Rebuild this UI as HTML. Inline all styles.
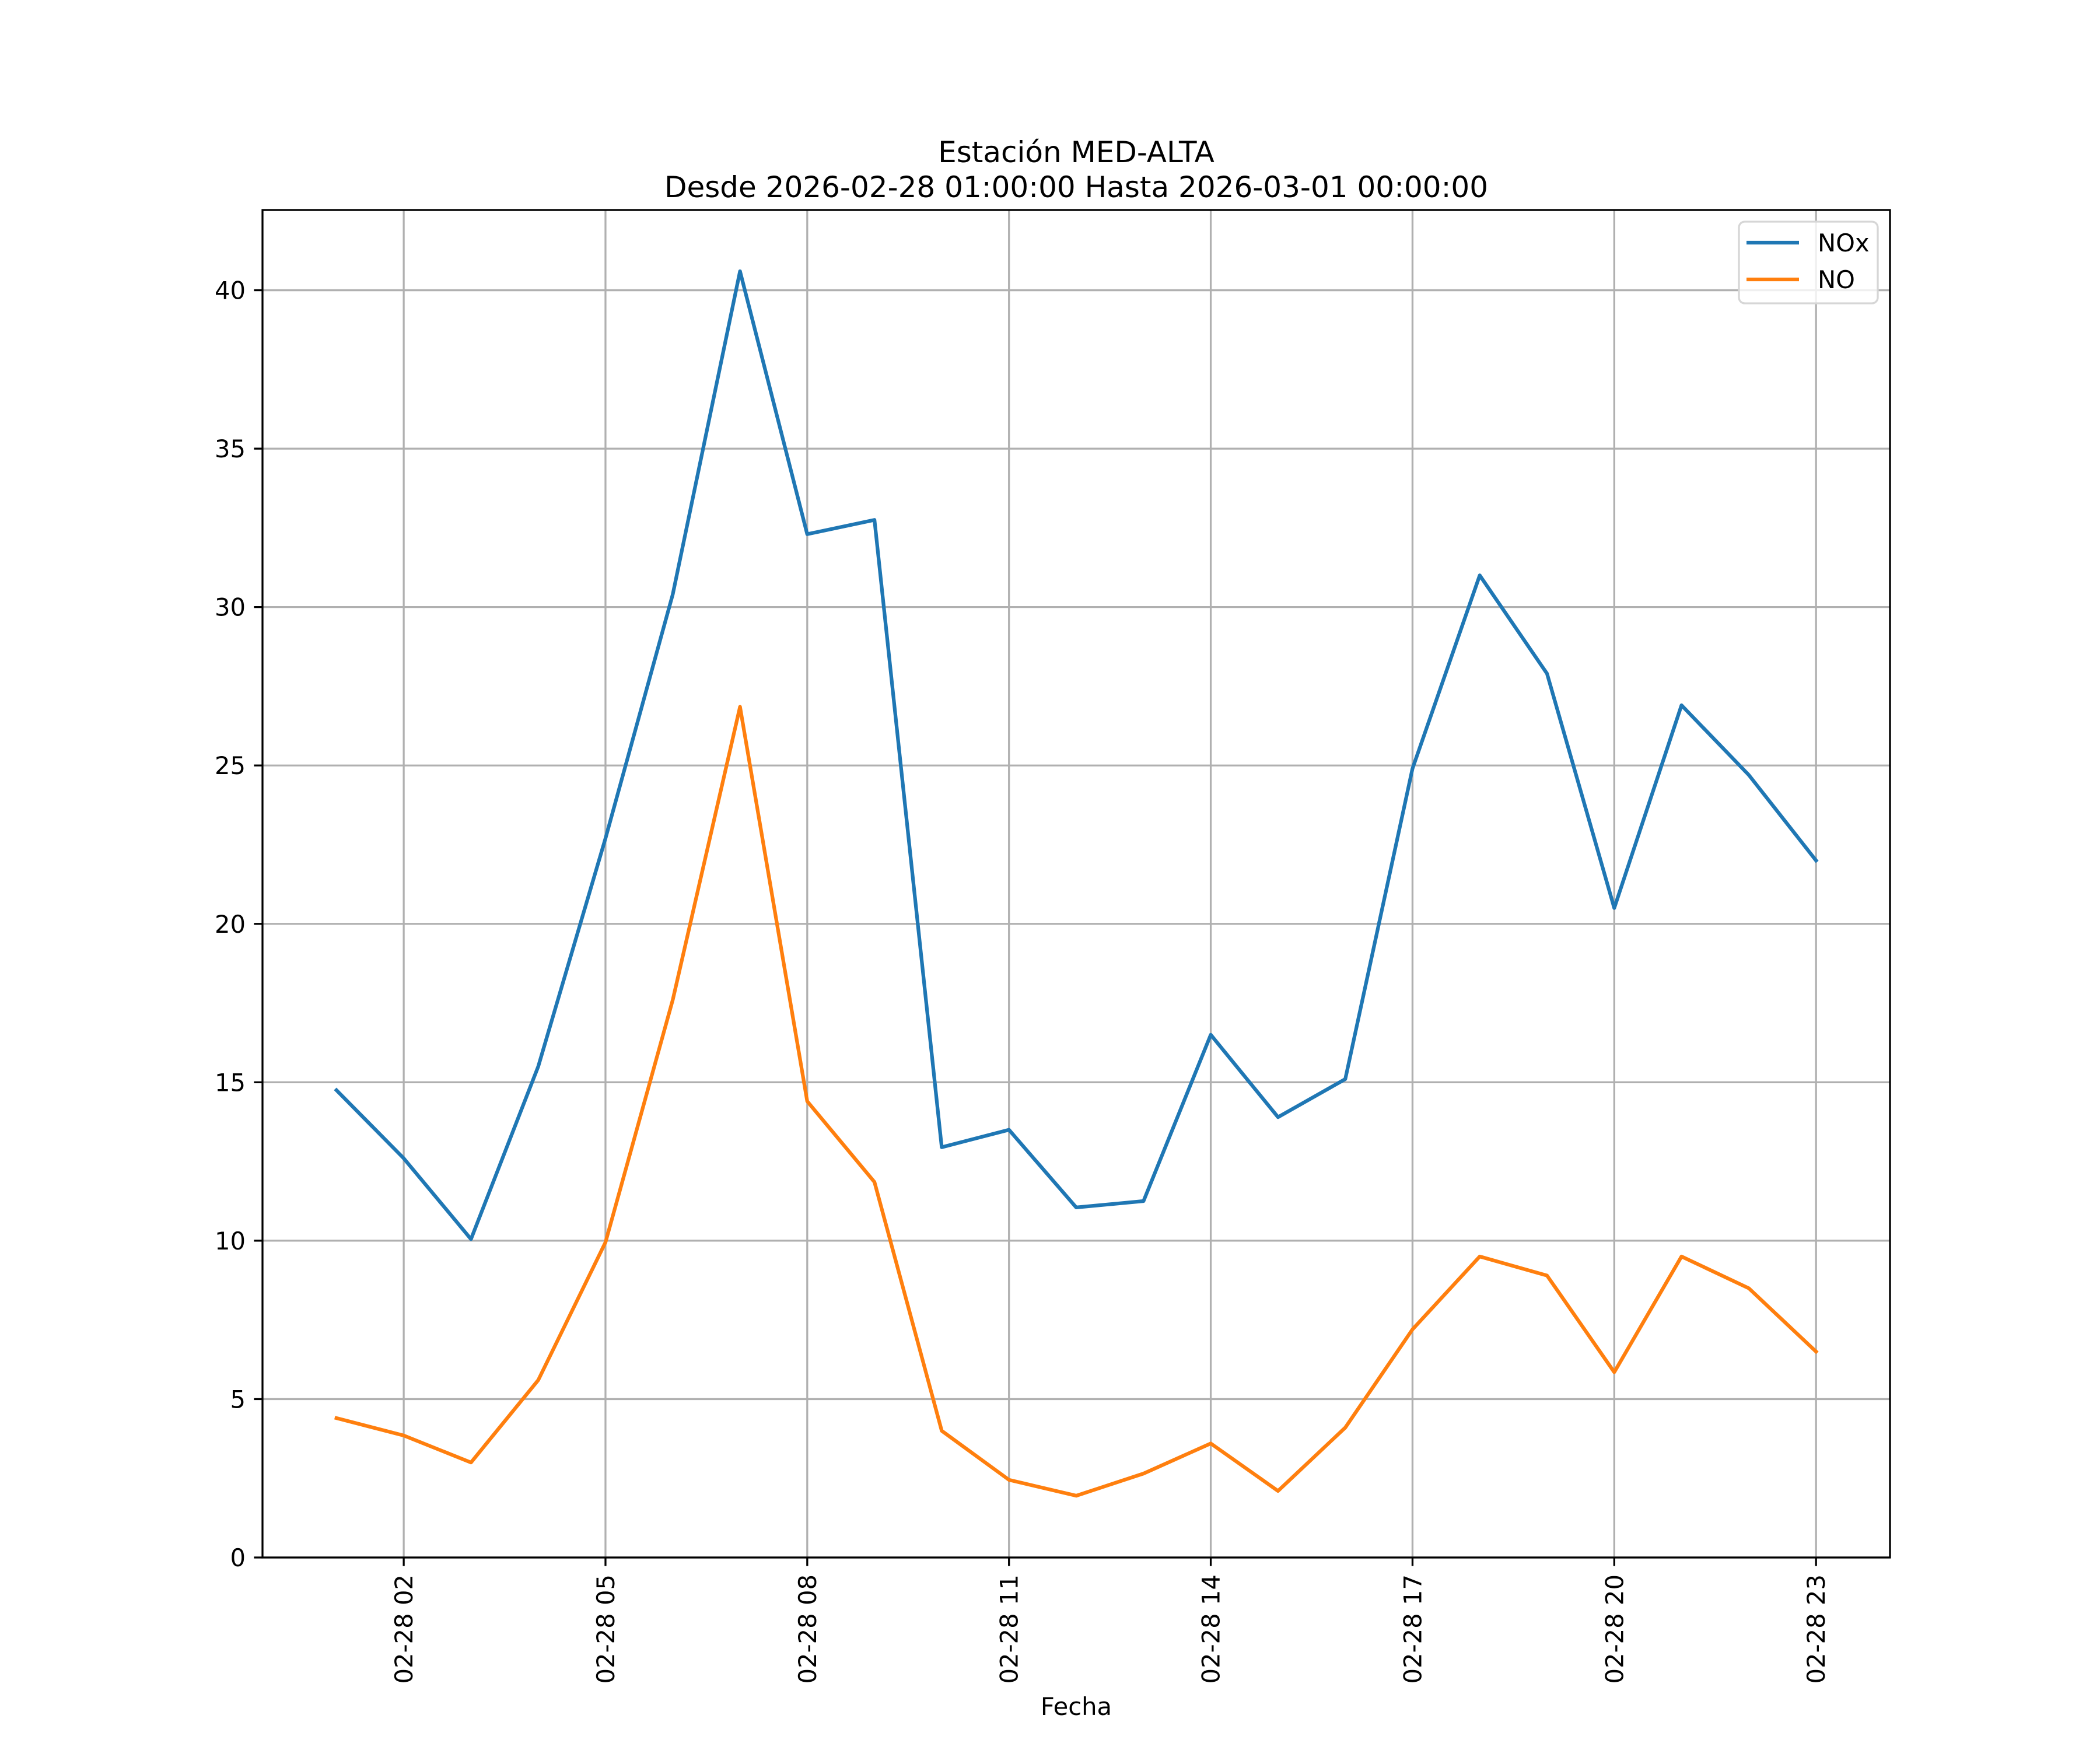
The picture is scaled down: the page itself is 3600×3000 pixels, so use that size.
<!DOCTYPE html>
<html><head><meta charset="utf-8"><style>
html,body{margin:0;padding:0;background:#fff}
svg{display:block;font-family:"DejaVu Sans","Liberation Sans",sans-serif}
</style></head><body>
<svg id="chart" width="3600" height="3000" viewBox="0 0 3600 3000" xmlns="http://www.w3.org/2000/svg">
<rect width="3600" height="3000" fill="#fff"/>
<g id="grid"></g>
<g id="series"></g>
<g id="axes"></g>
<text x="1845" y="278" font-size="50" text-anchor="middle">Estación MED-ALTA</text>
<text x="1845" y="338" font-size="50" text-anchor="middle">Desde 2026-02-28 01:00:00 Hasta 2026-03-01 00:00:00</text>
<text x="1845" y="2940" font-size="41.7" text-anchor="middle">Fecha</text>
<g>
<rect x="2981" y="380" width="238" height="140" rx="10" fill="#fff" fill-opacity="0.8" stroke="#d6d6d6" stroke-width="3.3"/>
<line x1="2994" y1="416" x2="3084" y2="416" stroke="#1f77b4" stroke-width="6.25"/>
<text x="3116" y="431" font-size="41.7">NOx</text>
<line x1="2994" y1="479" x2="3084" y2="479" stroke="#ff7f0e" stroke-width="6.25"/>
<text x="3116" y="494" font-size="41.7">NO</text>
</g>
</svg>
<script>
const hours = [1,2,3,4,5,6,7,8,9,10,11,12,13,14,15,16,17,18,19,20,21,22,23];
const noxValues = [14.75,12.6,10.05,15.5,22.7,30.4,40.6,32.3,32.75,12.95,13.5,11.05,11.25,16.5,13.9,15.1,24.9,31.0,27.9,20.5,26.9,24.7,22.0];
const noValues = [4.4,3.85,3.0,5.6,9.95,17.6,26.85,14.4,11.85,4.0,2.45,1.95,2.65,3.6,2.1,4.1,7.2,9.5,8.9,5.85,9.5,8.5,6.5];
const xTickHours = [2,5,8,11,14,17,20,23];
const xTickLabels = ["02-28 02","02-28 05","02-28 08","02-28 11","02-28 14","02-28 17","02-28 20","02-28 23"];
const yTicks = [0,5,10,15,20,25,30,35,40];

const L=450,R=3240,T=360,B=2670;
const allX=hours, xmin=Math.min(...allX), xmax=Math.max(...allX);
const xpad=(xmax-xmin)*0.05, x0=xmin-xpad, x1=xmax+xpad;
const allY=noxValues.concat(noValues);
const ymaxD=Math.max(...allY), yminD=Math.min(...allY);
const y0=0, y1=ymaxD+(ymaxD-yminD)*0.05;
const sx=v=>L+(v-x0)/(x1-x0)*(R-L);
const sy=v=>B-(v-y0)/(y1-y0)*(B-T);
const NS="http://www.w3.org/2000/svg";
function mk(tag,attrs,parent){const e=document.createElementNS(NS,tag);for(const k in attrs)e.setAttribute(k,attrs[k]);parent.appendChild(e);return e;}
const grid=document.getElementById('grid'),axes=document.getElementById('axes'),series=document.getElementById('series');
xTickHours.forEach((h,i)=>{
  const x=sx(h);
  const g=mk('line',{x1:x,x2:x,y1:T,y2:B,stroke:'#b0b0b0','stroke-width':3.3},grid);
  
  
  const t=mk('line',{x1:x,x2:x,y1:B,y2:B+14.6,stroke:'#000','stroke-width':3.3},axes);
  
  
  const lb=mk('text',{x:0,y:0,'font-size':41.7,'text-anchor':'end',transform:`translate(${x+15},${B+29}) rotate(-90)`},axes);
  lb.textContent=xTickLabels[i];
  
  
});
yTicks.forEach(v=>{
  const y=sy(v);
  const g=mk('line',{x1:L,x2:R,y1:y,y2:y,stroke:'#b0b0b0','stroke-width':3.3},grid);
  
  
  const t=mk('line',{x1:L-14.6,x2:L,y1:y,y2:y,stroke:'#000','stroke-width':3.3},axes);
  
  
  const lb=mk('text',{x:L-29,y:y+15,'font-size':41.7,'text-anchor':'end'},axes);
  lb.textContent=String(v);
  
  
});
const frame=mk('rect',{x:L,y:T,width:R-L,height:B-T,fill:'none',stroke:'#000','stroke-width':3.3},axes);


function line(vals,color,name){
  const d=vals.map((v,i)=>(i?'L':'M')+sx(hours[i]).toFixed(1)+','+sy(v).toFixed(1)).join(' ');
  const p=mk('path',{d:d,fill:'none',stroke:color,'stroke-width':6.25,'stroke-linejoin':'round','stroke-linecap':'square'},series);
  
  
}
line(noxValues,'#1f77b4','nox-line');
line(noValues,'#ff7f0e','no-line');
</script>
</body></html>
